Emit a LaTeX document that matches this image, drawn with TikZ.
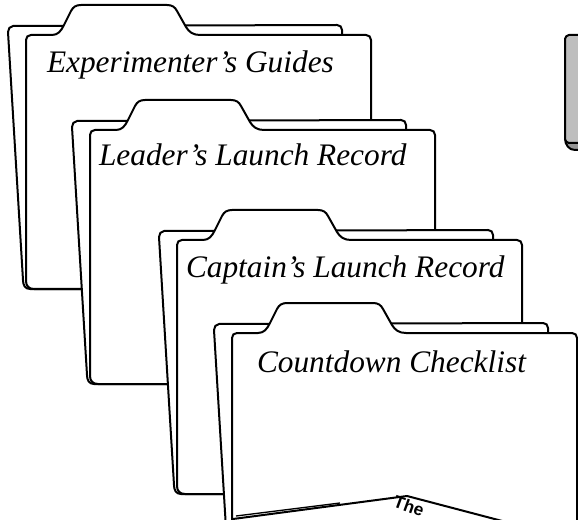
\documentclass[tikz,border=0pt]{standalone}
\usepackage{fontspec}
\setmainfont{Liberation Serif}
\newfontfamily\sheetfont{Liberation Sans}
\tikzset{every picture/.style={line width=1.5pt}}
\tikzset{
folder/.style={draw=black, fill=white, line join=round},
label text/.style={anchor=base west, inner sep=0pt, font=\fontsize{23.5}{28}\selectfont\itshape}}

\begin{document}
\begin{tikzpicture}[x=0.75pt,y=0.75pt,yscale=-1,xscale=1]
\useasboundingbox (0,0) rectangle (578,520);
\clip (0,0) rectangle (578,520);

%Shape: Folder back [id:fb1]
\draw [folder] (30,289) .. controls (25,289) and (23,285) .. (23,280) -- (8,32) .. controls (8,29) and (10,26) .. (13,26) -- (337,25) .. controls (340,25) and (342,27) .. (342,30) -- (342,289) -- cycle ;
%Shape: Folder front [id:ff1]
\draw [folder] (26,281) -- (26,40) .. controls (26,37) and (28,35) .. (31,35) -- (52,35) .. controls (58,35) and (61,31) .. (64,25) -- (71,11) .. controls (73,7) and (76,5) .. (81,5) -- (167,5) .. controls (172,5) and (175,7) .. (177,11) -- (186,27) .. controls (189,32) and (193,35) .. (200,35) -- (366,35) .. controls (369,35) and (371,37) .. (371,40) -- (371,289) -- (34,289) .. controls (29,289) and (26,286) .. (26,281) -- cycle ;
% Text Node
\node [label text] (guides) at (46,73) {Experimenter’s Guides};

%Shape: Folder back [id:fb2]
\draw [folder] (94,384) .. controls (89,384) and (87,380) .. (87,375) -- (72,127) .. controls (72,124) and (74,121) .. (77,121) -- (401,120) .. controls (404,120) and (406,122) .. (406,125) -- (406,384) -- cycle ;
%Shape: Folder front [id:ff2]
\draw [folder] (90,376) -- (90,135) .. controls (90,132) and (92,130) .. (95,130) -- (116,130) .. controls (122,130) and (125,126) .. (128,120) -- (135,106) .. controls (137,102) and (140,100) .. (145,100) -- (231,100) .. controls (236,100) and (239,102) .. (241,106) -- (250,122) .. controls (253,127) and (257,130) .. (264,130) -- (430,130) .. controls (433,130) and (435,132) .. (435,135) -- (435,384) -- (98,384) .. controls (93,384) and (90,381) .. (90,376) -- cycle ;
% Text Node
\node [label text] (leader) at (98,166) {Leader’s Launch Record};

%Shape: Folder back [id:fb3]
\draw [folder] (181,494) .. controls (176,494) and (174,490) .. (174,485) -- (159,237) .. controls (159,234) and (161,231) .. (164,231) -- (488,230) .. controls (491,230) and (493,232) .. (493,235) -- (493,494) -- cycle ;
%Shape: Folder front [id:ff3]
\draw [folder] (177,486) -- (177,245) .. controls (177,242) and (179,240) .. (182,240) -- (203,240) .. controls (209,240) and (212,236) .. (215,230) -- (222,216) .. controls (224,212) and (227,210) .. (232,210) -- (318,210) .. controls (323,210) and (326,212) .. (328,216) -- (337,232) .. controls (340,237) and (344,240) .. (351,240) -- (517,240) .. controls (520,240) and (522,242) .. (522,245) -- (522,494) -- (185,494) .. controls (180,494) and (177,491) .. (177,486) -- cycle ;
% Text Node
\node [label text] (captain) at (185,277) {Captain’s Launch Record};

%Shape: Folder back [id:fb4]
\draw [folder] (236,587) .. controls (231,587) and (229,583) .. (229,578) -- (214,330) .. controls (214,327) and (216,324) .. (219,324) -- (543,323) .. controls (546,323) and (548,325) .. (548,328) -- (548,587) -- cycle ;
%Shape: Folder front [id:ff4]
\draw [folder] (232,579) -- (232,338) .. controls (232,335) and (234,333) .. (237,333) -- (258,333) .. controls (264,333) and (267,329) .. (270,323) -- (277,309) .. controls (279,305) and (282,303) .. (287,303) -- (373,303) .. controls (378,303) and (381,305) .. (383,309) -- (392,325) .. controls (395,330) and (399,333) .. (406,333) -- (572,333) .. controls (575,333) and (577,335) .. (577,338) -- (577,587) -- (240,587) .. controls (235,587) and (232,584) .. (232,579) -- cycle ;
% Text Node
\node [label text] (countdown) at (256,372) {Countdown Checklist};

%Shape: Sheet in folder [id:sh1]
\draw [folder] (233,522) -- (233,519) -- (407,496) -- (506,522) -- cycle ;
\draw [line width=1pt] (236,516) -- (340,503) ;
% Text Node
\node [rotate=-20, inner sep=0pt, font=\sheetfont\bfseries\fontsize{13}{15}\selectfont] (sheettitle) at (409,506) {The};

%Shape: Binder spine [id:bs1]
\draw [fill={rgb, 255:red, 150; green, 150; blue, 150 }, line join=round] (580,138) -- (565,138) .. controls (565,145) and (569,150) .. (575,150) -- (580,150) ;
\draw [fill={rgb, 255:red, 190; green, 190; blue, 190 }, line join=round] (580,35) -- (569,35) .. controls (567,35) and (565,37) .. (565,39) -- (565,139) .. controls (565,141) and (567,143) .. (569,143) -- (580,143) ;

\end{tikzpicture}
\end{document}
